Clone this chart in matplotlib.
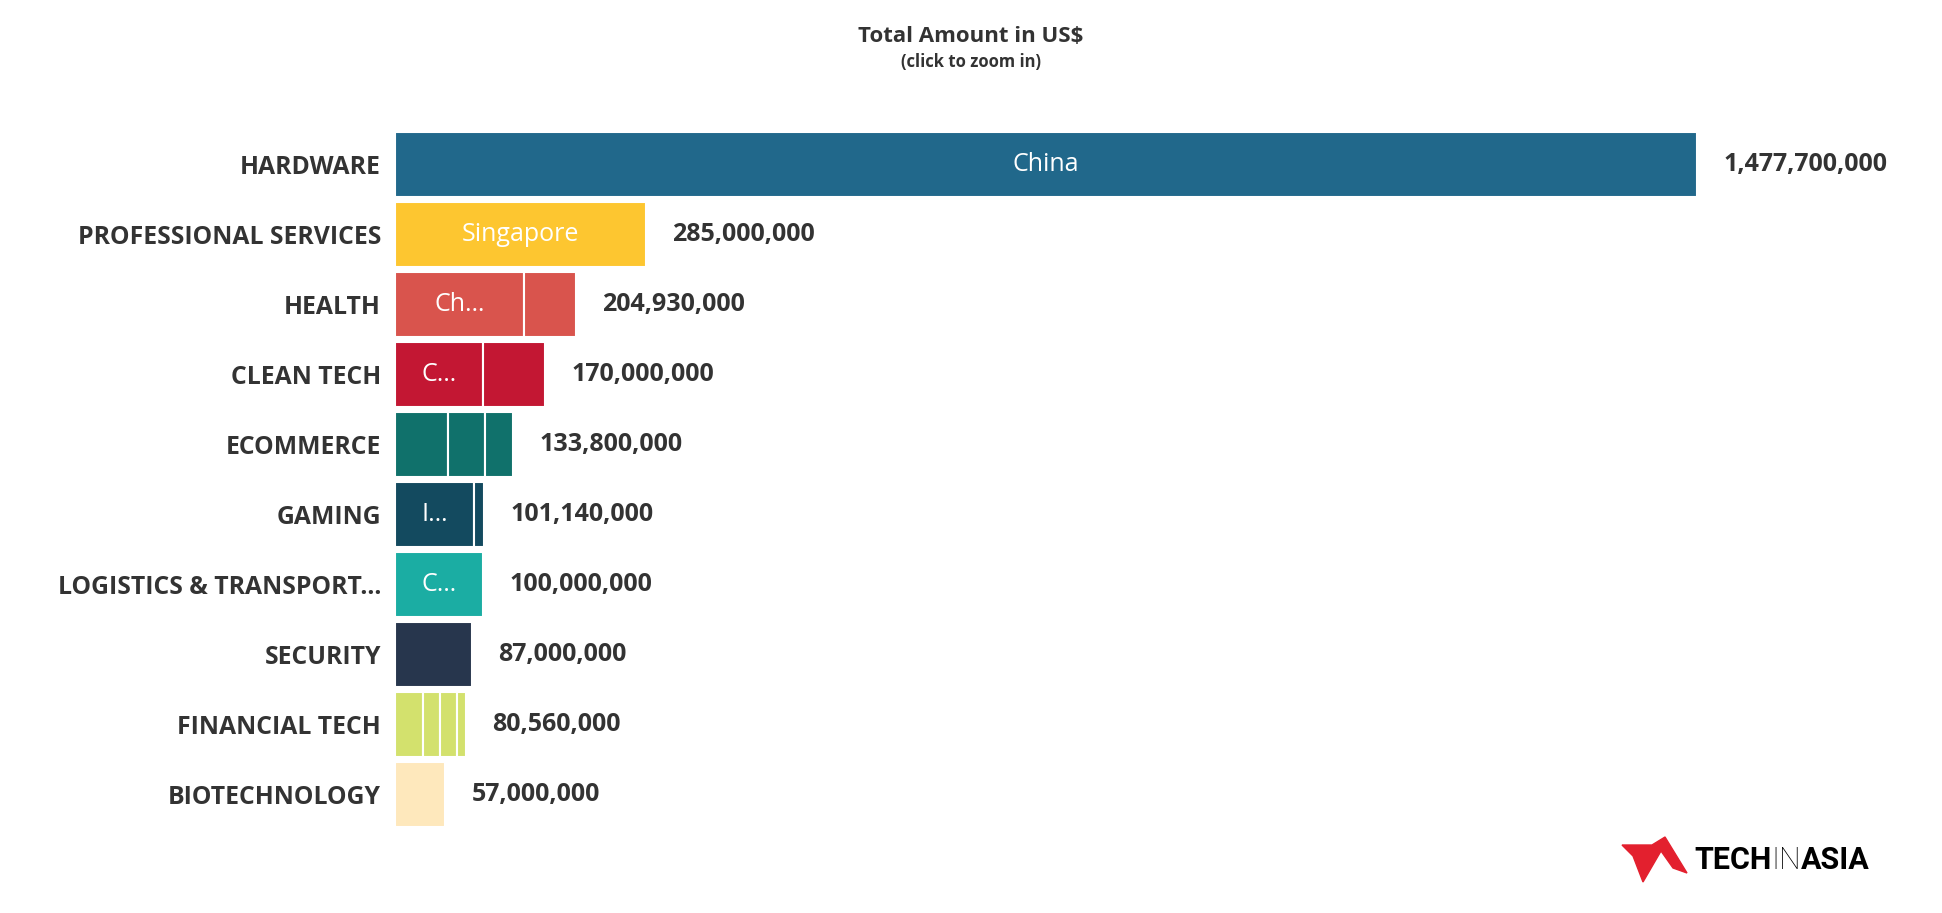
import matplotlib
matplotlib.use('Agg')
import matplotlib.pyplot as plt
from matplotlib.patches import Polygon

# data
categories = ['HARDWARE', 'PROFESSIONAL SERVICES', 'HEALTH', 'CLEAN TECH', 'ECOMMERCE',
              'GAMING', 'LOGISTICS & TRANSPORT...', 'SECURITY', 'FINANCIAL TECH', 'BIOTECHNOLOGY']
totals = [1477700000, 285000000, 204930000, 170000000, 133800000,
          101140000, 100000000, 87000000, 80560000, 57000000]

# country segments within each bar (only the first one carries a label)
seg_hardware = [1477700000]
seg_professional = [285000000]
seg_health = [146000000, 58930000]
seg_cleantech = [100000000, 70000000]
seg_ecommerce = [60000000, 42000000, 31800000]
seg_gaming = [90000000, 11140000]
seg_logistics = [100000000]
seg_security = [87000000]
seg_fintech = [32000000, 19000000, 19000000, 10560000]
seg_biotech = [57000000]
segments = [seg_hardware, seg_professional, seg_health, seg_cleantech, seg_ecommerce,
            seg_gaming, seg_logistics, seg_security, seg_fintech, seg_biotech]
first_labels = ['China', 'Singapore', 'Ch\u2026', 'C\u2026', '', 'I\u2026', 'C\u2026', '', '', '']

colors = ['#21688b', '#fdc630', '#d9544d', '#c31733', '#10716b',
          '#134a5f', '#1bada3', '#27364d', '#d3e16d', '#fee8bc']

FONT = 'Open Sans'
TXT = '#333333'
W, H = 1942, 913

fig = plt.figure(figsize=(W / 100, H / 100), dpi=100)
# axes: left edge of bars at x=395px, hardware bar ends at 1697px, rows 70px apart starting at 129.5px
ax = fig.add_axes([395 / W, (H - 829.5) / H, (1697 - 395) / W, 700 / H])

for i, segs in enumerate(segments):
    left = 0
    for j, v in enumerate(segs):
        ax.barh(i, v, left=left, height=0.93, color=colors[i],
                edgecolor='white', linewidth=1.5)
        if j == 0 and first_labels[i]:
            ax.text(left + v / 2, i, first_labels[i], ha='center', va='center',
                    color='white', fontsize=18, family=FONT)
        left += v
    ax.annotate(f'{totals[i]:,}', xy=(totals[i], i), xytext=(19, 0),
                textcoords='offset points', ha='left', va='center',
                fontsize=18, fontweight='bold', color=TXT, family=FONT,
                annotation_clip=False)

ax.set_xlim(0, totals[0])
ax.set_ylim(9.5, -0.5)
ax.set_yticks(range(len(categories)))
ax.set_yticklabels(categories, fontsize=17.8, fontweight='bold', color=TXT, family=FONT)
ax.tick_params(axis='y', length=0, pad=10)
ax.set_xticks([])
for s in ax.spines.values():
    s.set_visible(False)

fig.text(0.5, 1 - 37 / H, 'Total Amount in US$', ha='center', va='center',
         fontsize=16, fontweight='bold', color=TXT, family=FONT)
fig.text(0.5, 1 - 62 / H, '(click to zoom in)', ha='center', va='center',
         fontsize=12, fontweight='bold', color=TXT, family=FONT)

# Tech in Asia logo, bottom right
logo_pts = [(1622, 845), (1652, 845), (1665, 837), (1687, 873), (1673, 868),
            (1661, 851), (1643, 882), (1633, 856)]
fig.patches.append(Polygon([(x / W, 1 - y / H) for x, y in logo_pts], closed=True,
                           transform=fig.transFigure, color='#e3202e', figure=fig))
renderer = fig.canvas.get_renderer()
x = 1694 / W
for part, wt in [('TECH', 'bold'), ('IN', 'light'), ('ASIA', 'bold')]:
    t = fig.text(x, 1 - 860 / H, part, ha='left', va='center', fontsize=22,
                 fontweight=wt, color='black', family='Roboto')
    bb = t.get_window_extent(renderer)
    x = bb.x1 / W

fig.savefig('out.png', dpi=100, facecolor='white')
